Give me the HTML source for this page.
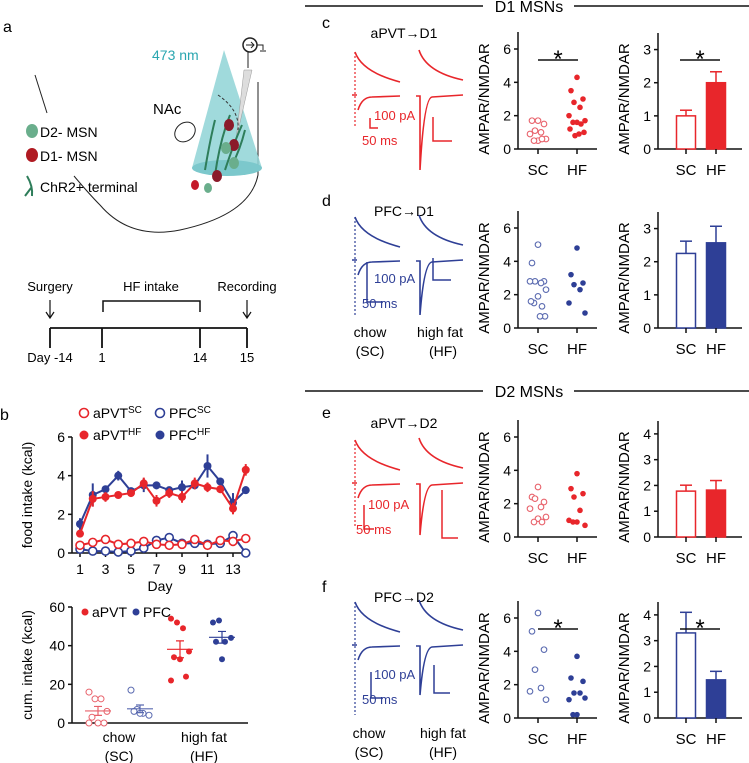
<!DOCTYPE html>
<html><head><meta charset="utf-8">
<style>
html,body{margin:0;padding:0;background:#fff;overflow:hidden;}
svg{display:block;font-family:"Liberation Sans","DejaVu Sans",sans-serif;}
</style></head>
<body>
<svg id="fig" width="749" height="763" viewBox="0 0 749 763" xmlns="http://www.w3.org/2000/svg">
<g>
<text x="3" y="32" font-size="16">a</text>
<path d="M35,75 L47,113" stroke="#222" fill="none" stroke-width="1"/>
<path d="M74,176 Q90,195 100,205 Q130,240 180,230 Q250,215 258,175 L258,82" stroke="#222" fill="none" stroke-width="1"/>
<polygon points="224,50 192,168 262,168" fill="#8fd3d6" opacity="0.85"/>
<ellipse cx="227" cy="168" rx="35" ry="8" fill="#7cc8cc"/>
<text x="152" y="60" font-size="14" fill="#2aa6b0">473 nm</text>
<text x="153" y="114" font-size="15">NAc</text>
<ellipse cx="185" cy="132" rx="11" ry="9" transform="rotate(-40 185 132)" fill="none" stroke="#222"/>
<circle cx="250" cy="45" r="7" fill="#fff" stroke="#222" stroke-width="1.5"/>
<path d="M246,45 L254,45 M251,42 L254,45 L251,48" stroke="#222" fill="none"/>
<path d="M257,45 L263,45 L263,50 M260,51 L266,51" stroke="#222" fill="none"/>
<line x1="248" y1="52" x2="248" y2="68" stroke="#222"/>
<polygon points="244,70 252,70 236,140" fill="#ddd" stroke="#999" stroke-width="0.5"/>
<path d="M218,95 Q240,110 238,130" stroke="#333" stroke-dasharray="3,2" fill="none"/>
<path d="M205,170 Q210,140 215,120 M215,175 Q220,140 230,115 M225,170 Q235,140 242,125 M232,165 Q240,150 245,130" stroke="#2e7d5a" stroke-width="2" fill="none"/>
<ellipse cx="229" cy="125" rx="5" ry="6" fill="#8b1a2a"/>
<ellipse cx="234" cy="145" rx="5" ry="6" fill="#8b1a2a"/>
<ellipse cx="226" cy="148" rx="5" ry="6" fill="#6aae8c"/>
<ellipse cx="234" cy="163" rx="5" ry="6" fill="#6aae8c"/>
<ellipse cx="217" cy="176" rx="5" ry="6" fill="#8b1a2a"/>
<ellipse cx="195" cy="185" rx="4" ry="5" fill="#c41a2a"/>
<ellipse cx="208" cy="188" rx="4" ry="5" fill="#6aae8c"/>
<ellipse cx="32" cy="131" rx="6" ry="7" fill="#6aae8c"/>
<text x="40" y="137" font-size="14">D2- MSN</text>
<ellipse cx="32" cy="155" rx="6" ry="7" fill="#b01a22"/>
<text x="40" y="161" font-size="14">D1- MSN</text>
<path d="M27,176 Q33,186 32,196 M31,188 L25,196" stroke="#2e7d5a" stroke-width="2" fill="none"/>
<text x="40" y="192" font-size="14">ChR2+ terminal</text>
</g>
<g font-size="13" text-anchor="middle">
<text x="50" y="291">Surgery</text>
<text x="151" y="291">HF intake</text>
<text x="247" y="291">Recording</text>
<path d="M103,312 L103,301 L200,301 L200,312" stroke="#111" fill="none" stroke-width="1.5"/>
<path d="M50,300 L50,318 M46,312 L50,318 L54,312 M247,300 L247,318 M243,312 L247,318 L251,312" stroke="#111" fill="none" stroke-width="1.2"/>
<path d="M50,328 L247,328 M50,328 L50,348 M102,328 L102,348 M200,328 L200,348 M247,328 L247,348" stroke="#111" fill="none" stroke-width="1.8"/>
<text x="50" y="362">Day -14</text><text x="102" y="362">1</text><text x="200" y="362">14</text><text x="247" y="362">15</text>
</g>
<g id="dyn"></g>
</svg>
<script>
// ---- data ----
const days=[1,2,3,4,5,6,7,8,9,10,11,12,13,14];
const aPVT_HF=[1.0,2.8,2.9,3.0,3.1,3.6,2.7,3.1,2.9,3.6,3.4,3.3,2.3,4.3];
const aPVT_HF_err=[0.1,0.4,0.25,0.1,0.15,0.3,0.3,0.25,0.3,0.3,0.25,0.2,0.3,0.3];
const PFC_HF=[1.5,3.0,3.3,4.0,3.2,3.5,3.5,3.25,3.4,3.5,4.5,3.7,2.6,3.25];
const PFC_HF_err=[0.3,0.6,0.1,0.25,0.1,0.35,0.2,0.15,0.35,0.2,0.6,0.1,0.5,0.2];
const aPVT_SC=[0.4,0.55,0.7,0.45,0.5,0.6,0.45,0.4,0.45,0.7,0.4,0.65,0.6,0.75];
const PFC_SC=[0.2,0.1,0.1,0.05,0.1,0.25,0.65,0.8,0.5,0.5,0.45,0.5,0.9,0.0];
const dayTicks=[1,3,5,7,9,11,13];
const cum_aPVT_SC=[16,12.5,12.5,6,3,0,0,0];
const cum_PFC_SC=[17,7,5,4,6,5];
const cum_aPVT_HF=[54,52,49,37,34,33,24,22];
const cum_PFC_HF=[52,53,42,44,42,33];
const c_SC=[1.7,1.7,1.5,1.1,1.0,0.9,0.6,0.5,0.5,0.6];
const c_HF=[4.3,3.5,3.0,2.8,2.5,2.0,1.7,1.6,1.6,1.5,1.2,1.0,0.9,0.8];
const c_bar=[1.0,2.0], c_err=[0.17,0.33];
const d_SC=[5.0,3.9,2.8,2.8,2.7,2.8,2.3,1.9,1.5,1.3,1.6,0.7,0.7];
const d_HF=[4.8,3.2,2.7,2.6,2.3,1.5,0.9];
const d_bar=[2.25,2.57], d_err=[0.37,0.5];
const e_SC=[3.0,2.4,2.1,2.3,1.8,1.7,1.2,1.1,0.9,0.9];
const e_HF=[3.8,2.9,2.6,2.4,1.6,1.0,0.7,0.9,0.9];
const e_bar=[1.78,1.82], e_err=[0.23,0.37];
const f_SC=[6.3,5.2,4.1,2.9,1.8,1.6,1.1];
const f_HF=[3.7,2.4,2.2,1.5,1.5,1.1,1.2,0.2,0.2];
const f_bar=[3.3,1.48], f_err=[0.8,0.33];
const groups=['SC','HF'];

const RED='#e8262b', LRED='#e8616a', BLUE='#2e3f96', LBLUE='#5a6ab0';
const NS='http://www.w3.org/2000/svg';
const root=document.getElementById('dyn');
function el(tag,attrs,parent,text){const e=document.createElementNS(NS,tag);for(const k in attrs)e.setAttribute(k,attrs[k]);if(text!==undefined)e.textContent=text;(parent||root).appendChild(e);return e;}
function grp(name){const g=el('g',{});


return g;}
function lin(d0,d1,r0,r1){return v=>r0+(v-d0)*(r1-r0)/(d1-d0);}
function yAxis(g,x,y,ticks,fmt,top){el('line',{x1:x,y1:top,x2:x,y2:y(ticks[0]),stroke:'#111','stroke-width':1.5},g);
ticks.forEach(t=>{el('line',{x1:x-4,y1:y(t),x2:x,y2:y(t),stroke:'#111','stroke-width':1.5},g);
const tx=el('text',{x:x-7,y:y(t)+5,'font-size':14,'text-anchor':'end'},g,fmt(t));

});}
function ylabel(g,x,cy,txt,fs){const t=el('text',{x:x,y:cy,'font-size':fs||14,'text-anchor':'middle',transform:`rotate(-90 ${x} ${cy})`},g,txt);

}
function jit(i){return [0,-6,6,-3,3,-8,8,0,-4,4,-7,7,2,-2][i%14];}

// ---- panel b top ----
(function(){const g=grp('food-intake-chart');
el('text',{x:0,y:420,'font-size':16},g,'b');
const x=lin(1,13,80,233), y=lin(0,6,553,437);
yAxis(g,72,y,[0,2,4,6],String,437);
el('line',{x1:72,y1:553,x2:248,y2:553,stroke:'#111','stroke-width':1.5},g);
dayTicks.forEach(d=>{el('line',{x1:x(d),y1:553,x2:x(d),y2:557,stroke:'#111','stroke-width':1.5},g);
const t=el('text',{x:x(d),y:574,'font-size':14,'text-anchor':'middle'},g,String(d));

});
const xt=el('text',{x:160,y:591,'font-size':14,'text-anchor':'middle'},g,'Day');


ylabel(g,32,495,'food intake (kcal)');
function series(vals,err,col,filled,name){const s=el('g',{},g);


el('polyline',{points:vals.map((v,i)=>x(days[i])+','+y(v)).join(' '),fill:'none',stroke:col,'stroke-width':2},s);
vals.forEach((v,i)=>{if(err)el('line',{x1:x(days[i]),y1:y(v-err[i]),x2:x(days[i]),y2:y(v+err[i]),stroke:col,'stroke-width':2},s);
const c=el('circle',{cx:x(days[i]),cy:y(v),r:4,fill:filled?col:'#fff',stroke:col,'stroke-width':filled?0:1.6},s);

});}
series(PFC_SC,null,BLUE,false,'pfc-sc-series');
series(aPVT_SC,null,RED,false,'apvt-sc-series');
series(PFC_HF,PFC_HF_err,BLUE,true,'pfc-hf-series');
series(aPVT_HF,aPVT_HF_err,RED,true,'apvt-hf-series');
const L=el('g',{'font-size':14},g);


el('circle',{cx:84,cy:413,r:4.5,fill:'#fff',stroke:RED,'stroke-width':1.6},L);
el('text',{x:93,y:418},L).innerHTML='aPVT<tspan font-size="10" dy="-5">SC</tspan>';
el('circle',{cx:160,cy:413,r:4.5,fill:'#fff',stroke:BLUE,'stroke-width':1.6},L);
el('text',{x:169,y:418},L).innerHTML='PFC<tspan font-size="10" dy="-5">SC</tspan>';
el('circle',{cx:84,cy:435,r:4.5,fill:RED},L);
el('text',{x:93,y:440},L).innerHTML='aPVT<tspan font-size="10" dy="-5">HF</tspan>';
el('circle',{cx:160,cy:435,r:4.5,fill:BLUE},L);
el('text',{x:169,y:440},L).innerHTML='PFC<tspan font-size="10" dy="-5">HF</tspan>';
})();

// ---- panel b bottom ----
(function(){const g=grp('cumulative-intake-chart');
const y=lin(0,60,723,607);
yAxis(g,72,y,[0,20,40,60],String,607);
el('line',{x1:72,y1:723,x2:248,y2:723,stroke:'#111','stroke-width':1.5},g);
ylabel(g,32,665,'cum. intake (kcal)');
[[119,'chow','(SC)'],[204,'high fat','(HF)']].forEach(a=>{el('text',{x:a[0],y:742,'font-size':14,'text-anchor':'middle'},g,a[1]);el('text',{x:a[0],y:761,'font-size':14,'text-anchor':'middle'},g,a[2]);});
function grpPts(vals,cx,col,filled){const m=vals.reduce((a,b)=>a+b,0)/vals.length;
const sd=Math.sqrt(vals.reduce((a,b)=>a+(b-m)*(b-m),0)/(vals.length-1))/Math.sqrt(vals.length);
vals.forEach((v,i)=>{const c=el('circle',{cx:cx+[-9,-3,3,9,-6,0,6,-9][i%8],cy:y(v),r:3,fill:filled?col:'#fff',stroke:col,'stroke-width':filled?0:1},g);

});
el('line',{x1:cx-13,y1:y(m),x2:cx+13,y2:y(m),stroke:col,'stroke-width':1.2},g);
el('path',{d:`M${cx},${y(m-sd)}V${y(m+sd)}M${cx-4},${y(m-sd)}H${cx+4}M${cx-4},${y(m+sd)}H${cx+4}`,stroke:col,fill:'none','stroke-width':1.2},g);}
grpPts(cum_aPVT_SC,98,LRED,false);grpPts(cum_PFC_SC,140,LBLUE,false);
grpPts(cum_aPVT_HF,180,RED,true);grpPts(cum_PFC_HF,222,BLUE,true);
el('circle',{cx:85,cy:612,r:3.5,fill:RED},g);el('text',{x:92,y:617,'font-size':14},g,'aPVT');
el('circle',{cx:136,cy:612,r:3.5,fill:BLUE},g);el('text',{x:143,y:617,'font-size':14},g,'PFC');
})();

// ---- headers ----
function header(y,txt){el('line',{x1:305,y1:y,x2:483,y2:y,stroke:'#111','stroke-width':1.5});el('line',{x1:574,y1:y,x2:749,y2:y,stroke:'#111','stroke-width':1.5});
const t=el('text',{x:529,y:y+6,'font-size':16,'text-anchor':'middle'},root,txt);

}
header(6,'D1 MSNs');header(391,'D2 MSNs');

// ---- traces (illustrative) ----
function traces(oy,labelY,col,letter,title,hfDepth,scDepth){const g=grp('traces-'+letter);
el('text',{x:322,y:labelY,'font-size':16},g,letter);
el('text',{x:404,y:labelY+10,'font-size':14,'text-anchor':'middle'},g,title);
const sw=1.6;
el('path',{d:`M355,${oy+52}L355,${oy+scDepth}`,stroke:col,'stroke-dasharray':'2,2',fill:'none','stroke-width':1.2},g);
el('path',{d:`M355,${oy+52} Q362,${oy+72} 400,${oy+82}`,stroke:col,fill:'none','stroke-width':sw},g);
el('path',{d:`M352,${oy+95}H357 M358,${oy+110} Q362,${oy+97} 372,${oy+97} L400,${oy+96}`,stroke:col,fill:'none','stroke-width':sw},g);
el('path',{d:`M419,${oy+50} Q426,${oy+72} 463,${oy+80}`,stroke:col,fill:'none','stroke-width':sw},g);
el('path',{d:`M416,${oy+96}H420 L420,${oy+hfDepth} Q424,${oy+98} 432,${oy+97} L463,${oy+95}`,stroke:col,fill:'none','stroke-width':sw},g);
return g;}
function scaleBar(g,x,y,h,w,col,lx,ly){el('path',{d:`M${x},${y}V${y+h}H${x+w}`,stroke:col,fill:'none','stroke-width':1.5},g);
if(lx){el('text',{x:lx,y:ly,'font-size':13,fill:col},g,'100 pA');el('text',{x:lx-12,y:ly+25,'font-size':13,fill:col},g,'50 ms');}}
let g;
g=traces(0,28,RED,'c','aPVT→D1',170,127);scaleBar(g,370,118,10,8,RED,374,120);scaleBar(g,433,117,24,19,RED);
g=traces(165,206,BLUE,'d','PFC→D1',150,150);scaleBar(g,367,262,40,16,BLUE,374,283);scaleBar(g,433,258,22,18,BLUE);
el('text',{x:370,y:337,'font-size':14,'text-anchor':'middle'},g,'chow');el('text',{x:370,y:356,'font-size':14,'text-anchor':'middle'},g,'(SC)');
el('text',{x:440,y:337,'font-size':14,'text-anchor':'middle'},g,'high fat');el('text',{x:443,y:356,'font-size':14,'text-anchor':'middle'},g,'(HF)');
g=traces(388,418,RED,'e','aPVT→D2',147,140);scaleBar(g,364,505,24,10,RED,368,509);scaleBar(g,442,490,48,16,RED);
g=traces(550,592,BLUE,'f','PFC→D2',145,165);scaleBar(g,371,672,26,12,BLUE,374,679);scaleBar(g,434,665,28,16,BLUE);
el('text',{x:369,y:738,'font-size':14,'text-anchor':'middle'},g,'chow');el('text',{x:369,y:757,'font-size':14,'text-anchor':'middle'},g,'(SC)');
el('text',{x:443,y:738,'font-size':14,'text-anchor':'middle'},g,'high fat');el('text',{x:443,y:757,'font-size':14,'text-anchor':'middle'},g,'(HF)');

// ---- scatter & bar charts ----
function sig(g,x1,x2,y){el('line',{x1:x1,y1:y,x2:x2,y2:y,stroke:'#111','stroke-width':1.5},g);el('text',{x:(x1+x2)/2,y:y+7,'font-size':24,'text-anchor':'middle'},g,'*');}
function scatter(name,y0,sc,hf,col,lcol,star){const g=grp(name);
const y=lin(0,6,y0,y0-100);
yAxis(g,518,y,[0,2,4,6],String,y0-117);
el('line',{x1:518,y1:y0,x2:597,y2:y0,stroke:'#111','stroke-width':1.5},g);
ylabel(g,489,y0-50,'AMPAR/NMDAR',15);
[[538,'SC'],[577,'HF']].forEach(a=>{el('line',{x1:a[0],y1:y0,x2:a[0],y2:y0+5,stroke:'#111','stroke-width':1.5},g);
const t=el('text',{x:a[0],y:y0+26,'font-size':15,'text-anchor':'middle'},g,a[1]);

});
sc.forEach((v,i)=>{const c=el('circle',{cx:538+jit(i),cy:y(v),r:2.8,fill:'#fff',stroke:lcol,'stroke-width':1.1},g);

});
hf.forEach((v,i)=>{const c=el('circle',{cx:577+jit(i),cy:y(v),r:2.8,fill:col},g);

});
if(star)sig(g,538,578,y0-89);}
function bars(name,y0,max,ticks,vals,errs,col,star){const g=grp(name);
const y=lin(0,max,y0,y0-116);
yAxis(g,658,y,ticks,String,y0-116);
el('line',{x1:658,y1:y0,x2:742,y2:y0,stroke:'#111','stroke-width':1.5},g);
ylabel(g,629,y0-50,'AMPAR/NMDAR',15);
[686,716].forEach((cx,i)=>{el('line',{x1:cx,y1:y(vals[i]+errs[i]),x2:cx,y2:y(vals[i]),stroke:col,'stroke-width':1.5},g);
el('line',{x1:cx-6,y1:y(vals[i]+errs[i]),x2:cx+6,y2:y(vals[i]+errs[i]),stroke:col,'stroke-width':1.5},g);
const r=el('rect',{x:cx-9.5,y:y(vals[i]),width:19,height:y0-y(vals[i]),fill:i?col:'#fff',stroke:col,'stroke-width':1.5},g);


el('line',{x1:cx,y1:y0,x2:cx,y2:y0+5,stroke:'#111','stroke-width':1.5},g);
const t=el('text',{x:cx,y:y0+26,'font-size':15,'text-anchor':'middle'},g,groups[i]);

});
if(star)sig(g,680,720,y0-89);}
scatter('scatter-c',149,c_SC,c_HF,RED,LRED,true);
bars('bars-c',149,3.5,[0,1,2,3],c_bar,c_err,RED,true);
scatter('scatter-d',328,d_SC,d_HF,BLUE,LBLUE,false);
bars('bars-d',328,3.5,[0,1,2,3],d_bar,d_err,BLUE,false);
scatter('scatter-e',537,e_SC,e_HF,RED,LRED,false);
bars('bars-e',537,4.5,[0,1,2,3,4],e_bar,e_err,RED,false);
scatter('scatter-f',718,f_SC,f_HF,BLUE,LBLUE,true);
bars('bars-f',718,4.5,[0,1,2,3,4],f_bar,f_err,BLUE,true);
</script>
</body></html>
